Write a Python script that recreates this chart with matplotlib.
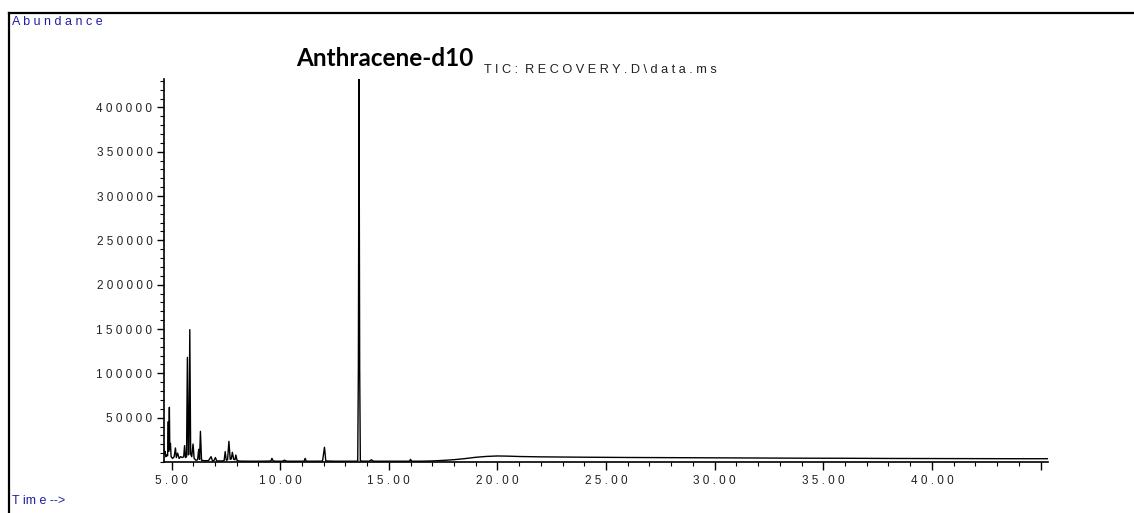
import numpy as np
import matplotlib.pyplot as plt
from matplotlib.ticker import MultipleLocator, FixedLocator, FuncFormatter
from matplotlib.lines import Line2D

# TIC trace (time in min, abundance)
time_min = [4.63, 4.66, 4.70, 4.74, 4.78, 4.82, 4.85, 4.87, 4.90, 4.92,
            4.95, 4.98, 5.05, 5.12, 5.18, 5.22, 5.28, 5.35, 5.42, 5.50,
            5.56, 5.60, 5.64, 5.69, 5.73, 5.77, 5.80, 5.84, 5.88, 5.93,
            5.99, 6.04, 6.12, 6.20, 6.25, 6.29, 6.33, 6.38, 6.50, 6.70,
            6.82, 6.88, 6.95, 7.02, 7.08, 7.30, 7.42, 7.47, 7.52, 7.58,
            7.64, 7.70, 7.75, 7.80, 7.86, 7.92, 7.96, 8.02, 8.15, 8.50,
            9.00, 9.50, 9.58, 9.62, 9.68, 9.80, 10.10, 10.20, 10.30, 10.60,
            11.10, 11.15, 11.20, 11.60, 11.95, 12.04, 12.10, 12.50, 13.00, 13.50,
            13.57, 13.60, 13.63, 13.66, 13.69, 13.75, 14.10, 14.20, 14.30, 15.00,
            15.95, 16.00, 16.05, 16.50, 17.00, 17.50, 18.00, 18.50, 19.00, 19.50,
            20.00, 20.50, 21.00, 22.00, 24.00, 26.00, 28.00, 30.00, 32.00, 34.00,
            36.00, 38.00, 40.00, 42.00, 44.00, 45.32]
abundance = [18000, 9000, 12000, 6000, 8000, 7000, 45500, 12000, 61700, 15000,
             21000, 6000, 4000, 6000, 15800, 5000, 10000, 4000, 6000, 5000,
             6000, 18400, 5000, 6000, 118000, 8000, 9000, 149300, 9000, 6000,
             20300, 4000, 2000, 2500, 14300, 3000, 34600, 2000, 1500, 1500,
             6000, 1500, 1500, 5000, 1200, 1200, 1500, 11600, 2000, 2500,
             23300, 3000, 3500, 10900, 3000, 2500, 7900, 1500, 1000, 900,
             900, 1000, 1500, 4100, 1200, 900, 900, 2000, 900, 900,
             900, 4100, 900, 900, 1000, 16600, 1200, 900, 900, 900,
             1200, 105000, 432000, 105000, 1500, 1000, 900, 2500, 900, 900,
             900, 3000, 900, 900, 1200, 1800, 2600, 3800, 5300, 6300,
             6800, 6600, 6200, 5800, 5400, 5100, 4900, 4700, 4500, 4300,
             4200, 4000, 3900, 3800, 3700, 3700]

y_ticks = [50000, 100000, 150000, 200000, 250000, 300000, 350000, 400000]
x_ticks = [5, 10, 15, 20, 25, 30, 35, 40, 45]
x_tick_labels = ['5.00', '10.00', '15.00', '20.00', '25.00', '30.00', '35.00', '40.00', '']

blue = '#1f1fa8'
plt.rcParams['font.family'] = ['Liberation Sans', 'DejaVu Sans']

def spaced(s):
    return ' '.join(s)

fig = plt.figure(figsize=(11.34, 5.13), dpi=100)
ax = fig.add_axes([163.5/1134, 1 - 462/513, 884/1134, 383/513])

ax.plot(time_min, abundance, color='black', lw=1.0)
ax.set_xlim(4.63, 45.32)
ax.set_ylim(0, 432000)

for s in ['top', 'right']:
    ax.spines[s].set_visible(False)
for s in ['left', 'bottom']:
    ax.spines[s].set_linewidth(1.2)

ax.yaxis.set_major_locator(FixedLocator(y_ticks))
ax.yaxis.set_minor_locator(MultipleLocator(10000))
ax.yaxis.set_major_formatter(FuncFormatter(lambda v, p: spaced('%d' % v)))
ax.xaxis.set_major_locator(FixedLocator(x_ticks))
ax.xaxis.set_minor_locator(MultipleLocator(1))
ax.set_xticklabels([spaced(t) for t in x_tick_labels])

ax.tick_params(axis='both', which='major', direction='out', length=5, width=1.0,
               labelsize=8.5, colors='black', labelcolor='#222222', pad=3)
ax.tick_params(axis='both', which='minor', direction='out', length=3, width=0.8)
ax.tick_params(axis='x', which='major', length=6)

# header texts
fig.text(12/1134, 1 - 22/513, spaced('Abundance'), color=blue, fontsize=9, va='center', ha='left')
fig.text(12/1134, 1 - 501/513, 'T im e -->', color=blue, fontsize=9, va='center', ha='left')
fig.text(296/1134, 1 - 66/513, 'Anthracene-d10', family=['Lato', 'DejaVu Sans'],
         fontweight='bold', fontsize=17.5, va='baseline', ha='left')
fig.text(484/1134, 1 - 73/513, 'T I C :  R E C O V E R Y . D \\ d a t a . m s',
         fontsize=9.2, va='baseline', ha='left', color='#222222')

# outer frame (top and left edges visible)
fig.add_artist(Line2D([9/1134, 1.0], [1 - 13/513, 1 - 13/513], color='black', lw=1.6,
                      transform=fig.transFigure))
fig.add_artist(Line2D([9/1134, 9/1134], [0.0, 1 - 13/513], color='black', lw=1.6,
                      transform=fig.transFigure))

fig.savefig('out.png', dpi=100)
